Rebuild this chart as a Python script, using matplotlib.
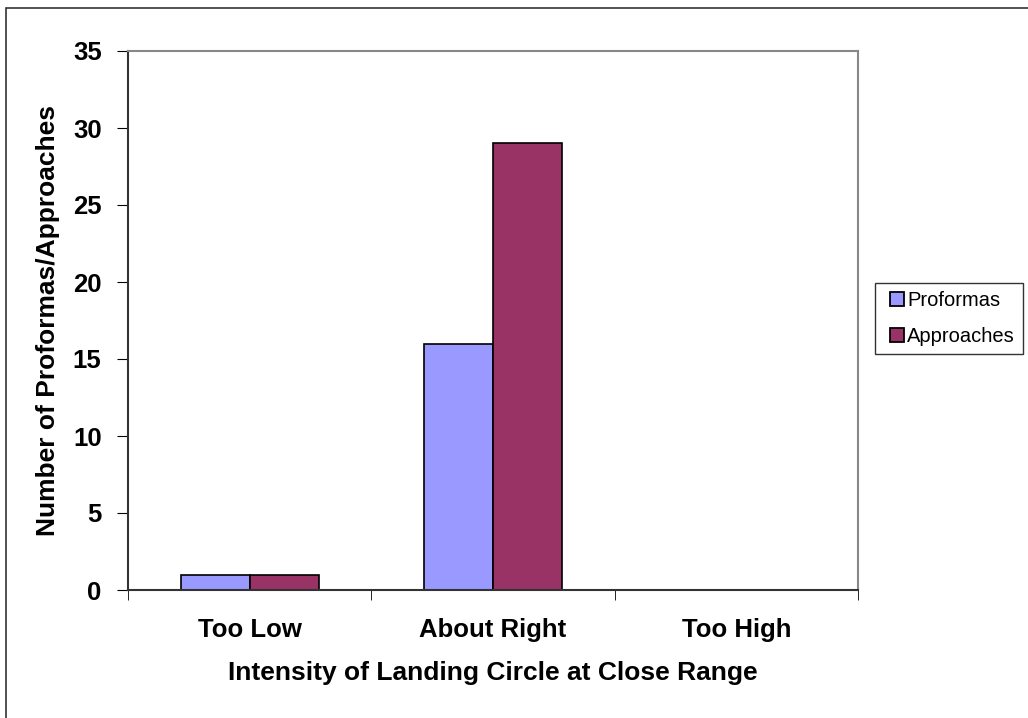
import matplotlib
matplotlib.use("Agg")
import matplotlib.pyplot as plt
import numpy as np
from matplotlib.patches import Rectangle
from matplotlib.lines import Line2D

categories = ["Too Low", "About Right", "Too High"]
proformas = [1, 16, 0]
approaches = [1, 29, 0]
yticks = [0, 5, 10, 15, 20, 25, 30, 35]
series_names = ["Proformas", "Approaches"]
series_colors = ["#9999FF", "#993366"]

plt.rcParams['font.family'] = ['Liberation Sans', 'DejaVu Sans']

fig = plt.figure(figsize=(10.28, 7.18), dpi=100)
fig.patches.append(Rectangle((6/1028, -0.2), 1.2, 1.2 - 8/718, transform=fig.transFigure,
                             fill=False, edgecolor='#333333', linewidth=1.2))
ax = fig.add_axes([128/1028, 1 - 590/718, 730/1028, 539/718])

x = np.arange(len(categories))
w = 0.284
ax.bar(x - w/2, proformas, w, color=series_colors[0], edgecolor='black', linewidth=1.2, label=series_names[0])
ax.bar(x + w/2, approaches, w, color=series_colors[1], edgecolor='black', linewidth=1.2, label=series_names[1])

ax.set_xlim(-0.5, 2.5)
ax.set_ylim(0, 35)
ax.set_yticks(yticks)
ax.set_yticklabels([str(v) for v in yticks], fontsize=18.5, fontweight='bold')
ax.set_xticks(x)
ax.set_xticklabels(categories, fontsize=18.5, fontweight='bold')
ax.tick_params(axis='x', length=0, pad=20)
ax.set_xticks([-0.5, 0.5, 1.5, 2.5], minor=True)
ax.tick_params(axis='x', which='minor', length=7, direction='out', color='black')
ax.tick_params(axis='y', length=8, direction='out', color='black', pad=11)

for s in ['top', 'right']:
    ax.spines[s].set_color('#888888')
    ax.spines[s].set_linewidth(1.5)
for s in ['left', 'bottom']:
    ax.spines[s].set_color('#333333')
    ax.spines[s].set_linewidth(1.5)

ax.set_ylabel('Number of Proformas/Approaches', fontsize=19, fontweight='bold', labelpad=9)
ax.set_xlabel('Intensity of Landing Circle at Close Range', fontsize=19, fontweight='bold', labelpad=14)

handles = [Line2D([], [], linestyle='none', marker='s', markersize=9.5, markerfacecolor=c,
                  markeredgecolor='black', markeredgewidth=1.3) for c in series_colors]
leg = fig.legend(handles, series_names, loc='center left', bbox_to_anchor=(875/1028, 1 - 318.5/718),
                 fontsize=14.5, frameon=True, fancybox=False, edgecolor='black',
                 handlelength=1.34, handletextpad=-0.15, labelspacing=0.85, borderpad=0.4,
                 borderaxespad=0)
leg.get_frame().set_linewidth(1.0)

fig.savefig('out.png', dpi=100)
